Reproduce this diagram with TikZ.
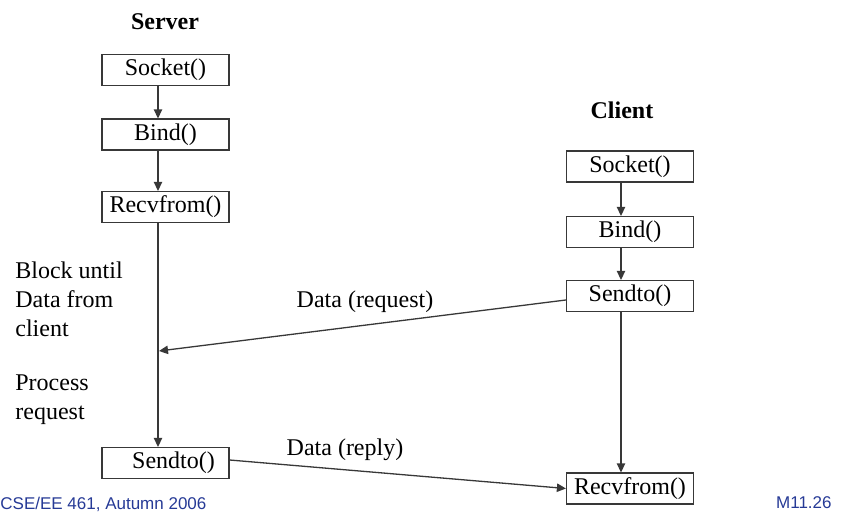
\documentclass[tikz,border=0pt]{standalone}
\usepackage{fontspec}
\setmainfont{Liberation Serif}
\newfontfamily\footfont{Liberation Sans}
\usetikzlibrary{arrows.meta, positioning, calc}
\definecolor{footblue}{RGB}{38,58,150}
\begin{document}
\begin{tikzpicture}[
		x=0.5pt, y=-0.5pt,
		every node/.style={font=\fontsize{12}{14.5}\selectfont},
		callbox/.style={draw=black!78, line width=0.6pt, minimum width=63.5pt, minimum height=15.5pt, inner sep=0pt},
		arrow/.style={-{Triangle[length=4.5pt, width=4.2pt]}, draw=black!78, line width=0.65pt},
		side/.style={align=left, anchor=west, inner sep=0pt},
		title/.style={font=\fontsize{12}{14.5}\selectfont\bfseries},
		foot/.style={font=\footfont\fontsize{8.5}{10}\selectfont, text=footblue, inner sep=0pt}
		]
		\useasboundingbox (0,0) rectangle (843,514);
		
		% === SERVER SIDE ===
		
		\node [title] (server) at (165, 22) {Server};
		\node [callbox] (ssock) at (165.5, 70) {Socket()};
		\node [callbox] (sbind) at (165.5, 134.5) {Bind()};
		\node [callbox] (srecv) at (165.5, 207) {Recvfrom()};
		\node [callbox] (ssend) at (165.5, 463) {\hspace{8pt}Sendto()};
		
		% column of the server arrows
		\coordinate (scol) at (158, 0);
		
		% === CLIENT SIDE ===
		
		\node [title] (client) at (622, 110) {Client};
		\node [callbox] (csock) at (630, 166.5) {Socket()};
		\node [callbox] (cbind) at (630, 232) {Bind()};
		\node [callbox] (csend) at (630, 296) {Sendto()};
		\node [callbox] (crecv) at (630, 488.5) {Recvfrom()};
		
		% column of the client arrows
		\coordinate (ccol) at (621, 0);
		
		% === CALL SEQUENCE ARROWS ===
		
		\draw[arrow] (ssock.south -| scol) -- (sbind.north -| scol);
		\draw[arrow] (sbind.south -| scol) -- (srecv.north -| scol);
		\draw[arrow] (srecv.south -| scol) -- (ssend.north -| scol);
		
		\draw[arrow] (csock.south -| ccol) -- (cbind.north -| ccol);
		\draw[arrow] (cbind.south -| ccol) -- (csend.north -| ccol);
		\draw[arrow] (csend.south -| ccol) -- (crecv.north -| ccol);
		
		% === DATA MESSAGES ===
		
		\coordinate (reqend) at (159, 351);
		\draw[arrow] ($(csend.west)+(0,4)$) -- (reqend);
		\node (reqlabel) at (365, 302) {Data (request)};
		
		\draw[arrow] ($(ssend.east)+(0,-3)$) -- (crecv.west);
		\node (replabel) at (345, 450) {Data (reply)};
		
		% === NOTES ON THE LEFT ===
		\node [side] (blocknote) at (15, 299) {Block until\\Data from\\client};
		\node [side] (procnote) at (15, 400) {Process\\request};
		
		% === FOOTER ===
		\node [foot, anchor=west] (course) at (0, 504) {CSE/EE 461, Autumn 2006};
		\node [foot, anchor=east] (slide) at (832, 503) {M11.26};
		
	\end{tikzpicture}
\end{document}
